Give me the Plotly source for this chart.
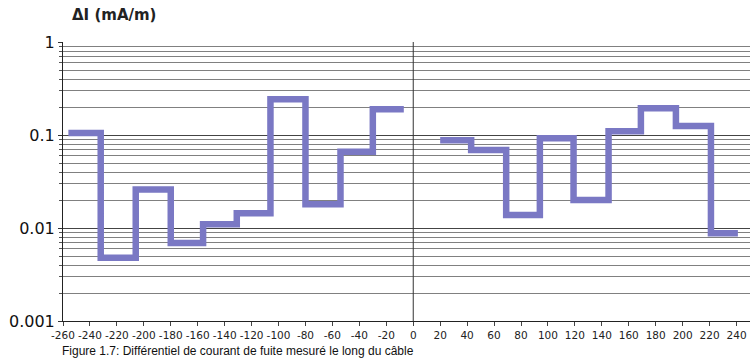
import plotly.graph_objects as go

# Bin edges (position, m) and step values (mA/m)
left_edges = [-256, -232, -206, -180, -156, -131, -106, -80, -54, -30, -7]
left_values = [0.105, 0.0048, 0.026, 0.0069, 0.011, 0.0144, 0.242, 0.018, 0.066, 0.189]
right_edges = [20, 43, 69, 94, 119, 145, 169, 195, 221, 241]
right_values = [0.088, 0.069, 0.0138, 0.092, 0.020, 0.110, 0.194, 0.125, 0.0088]

x_ticks = list(range(-260, 241, 20))
y_ticks = [0.001, 0.01, 0.1, 1]
y_tick_text = ["0.001", "0.01", "0.1", "1"]

LINE = "rgb(122,120,196)"


def step_xy(edges, values):
    return list(edges), list(values) + [values[-1]]


fig = go.Figure()
for edges, vals in [(left_edges, left_values), (right_edges, right_values)]:
    xs, ys = step_xy(edges, vals)
    fig.add_trace(go.Scatter(x=xs, y=ys, mode="lines", line_shape="hv",
                             line=dict(color=LINE, width=6.5), showlegend=False,
                             hoverinfo="x+y"))

fig.add_shape(type="line", xref="x", yref="paper", x0=0, x1=0, y0=0, y1=1,
              line=dict(color="#333", width=1))

fig.update_layout(
    width=750, height=359,
    margin=dict(l=63, r=0, t=42, b=38),
    paper_bgcolor="white", plot_bgcolor="white",
    font=dict(family="DejaVu Sans", color="#111"),
    xaxis=dict(range=[-260, 250], tickvals=x_ticks,
               ticktext=[str(v) for v in x_ticks],
               tickfont=dict(size=10.5, family="DejaVu Sans", color="#222"),
               showgrid=False, zeroline=False, showline=True,
               linecolor="#222", linewidth=1, ticks="outside", ticklen=4,
               tickcolor="#444", mirror=False),
    yaxis=dict(type="log", range=[-3, 0], tickvals=y_ticks,
               ticktext=y_tick_text,
               tickfont=dict(size=16, family="DejaVu Sans", color="#111"),
               showgrid=True, gridcolor="#444", gridwidth=1,
               zeroline=False, showline=True, linecolor="#222", linewidth=1,
               ticks="outside", ticklen=4, tickcolor="#333",
               minor=dict(dtick="D1", showgrid=True, gridcolor="#808080",
                          gridwidth=1, ticks="outside", ticklen=3,
                          tickcolor="#555")),
    annotations=[
        dict(text="<b>ΔI (mA/m)</b>", xref="paper", yref="paper",
             x=(70 - 63) / 687, y=(321 - 15) / 279, xanchor="left",
             yanchor="middle", showarrow=False,
             font=dict(size=15, family="DejaVu Sans", color="#222")),
        dict(text="Figure 1.7: Différentiel de courant de fuite mesuré le long du câble",
             xref="paper", yref="paper", x=(60 - 63) / 687,
             y=(321 - 351) / 279, xanchor="left", yanchor="middle",
             showarrow=False,
             font=dict(size=12, family="Liberation Sans", color="#111")),
    ],
)

fig.write_html("out.html")
